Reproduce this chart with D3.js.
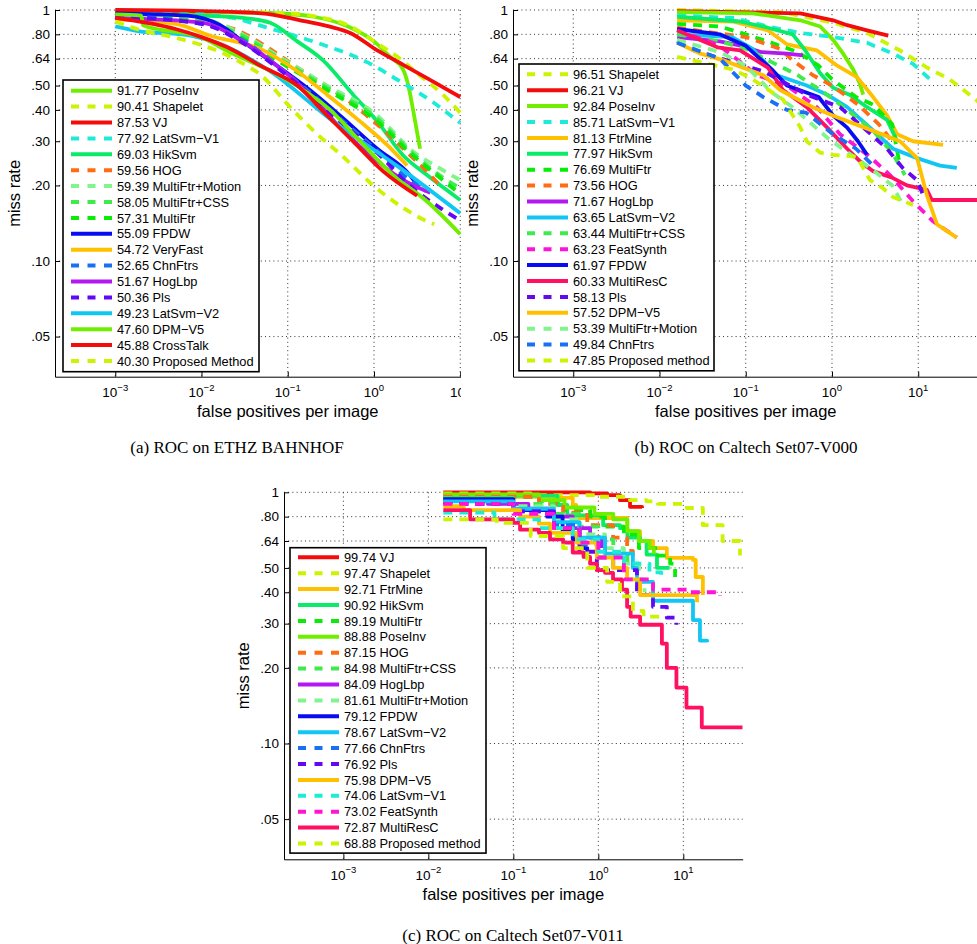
<!DOCTYPE html>
<html>
<head>
<meta charset="utf-8">
<script src="https://cdn.jsdelivr.net/npm/d3@7"></script>
<style>
  body { margin: 0; background: #fff; }
  svg { display: block; }
</style>
</head>
<body>
<svg id="fig" width="977" height="944"></svg>
<script>
// ---------- shared axis ticks ----------
const xTickValues = [1e-3, 1e-2, 1e-1, 1, 10];
const xTickExps = ["\u22123", "\u22122", "\u22121", "0", "1"];
const yTickValues = [1, 0.8, 0.64, 0.5, 0.4, 0.3, 0.2, 0.1, 0.05];
const yTickLabels = ["1", ".80", ".64", ".50", ".40", ".30", ".20", ".10", ".05"];

// ---------- (a) ETHZ BAHNHOF : [fppi, miss rate] ----------
const namesA = ["PoseInv", "Shapelet", "VJ", "LatSvm\u2212V1", "HikSvm", "HOG", "MultiFtr+Motion",
  "MultiFtr+CSS", "MultiFtr", "FPDW", "VeryFast", "ChnFtrs", "HogLbp", "Pls", "LatSvm\u2212V2",
  "DPM\u2212V5", "CrossTalk", "Proposed Method"];
const scoresA = [91.77, 90.41, 87.53, 77.92, 69.03, 59.56, 59.39, 58.05, 57.31, 55.09, 54.72,
  52.65, 51.67, 50.36, 49.23, 47.60, 45.88, 40.30];
const curvesA = [
  [[0.001,0.98],[0.01,0.98],[0.05,0.975],[0.1,0.965],[0.2,0.94],[0.5,0.86],[1,0.75],[1.54,0.65],[2.17,0.58],[2.5,0.5],[2.84,0.4],[3.42,0.28]],
  [[0.001,0.99],[0.01,0.985],[0.1,0.97],[0.2,0.945],[0.5,0.87],[1,0.75],[2,0.64],[3.16,0.56],[6.3,0.46],[10,0.39]],
  [[0.001,1.0],[0.01,0.99],[0.05,0.97],[0.14,0.91],[0.3,0.86],[0.53,0.81],[1.09,0.69],[2,0.615],[4.8,0.52],[10,0.45]],
  [[0.001,0.96],[0.01,0.96],[0.023,0.93],[0.058,0.85],[0.22,0.74],[0.83,0.62],[2,0.52],[4.8,0.43],[10,0.355]],
  [[0.001,0.96],[0.01,0.95],[0.03,0.93],[0.0625,0.89],[0.129,0.75],[0.257,0.63],[0.573,0.46],[1.09,0.36],[2.17,0.264],[4.12,0.22],[10,0.175]],
  [[0.001,0.95],[0.01,0.9],[0.026,0.83],[0.058,0.71],[0.129,0.59],[0.44,0.45],[1.09,0.35],[2.6,0.265],[4.5,0.22],[5.8,0.2]],
  [[0.001,0.96],[0.01,0.92],[0.03,0.8],[0.075,0.66],[0.286,0.5],[1.09,0.38],[2.6,0.28],[6.3,0.23],[10,0.21]],
  [[0.001,0.95],[0.01,0.9],[0.03,0.79],[0.075,0.65],[0.286,0.49],[1.09,0.37],[2.6,0.275],[6.3,0.215],[10,0.195]],
  [[0.001,0.95],[0.01,0.89],[0.03,0.77],[0.075,0.63],[0.286,0.48],[1.09,0.36],[2.6,0.27],[6.3,0.21],[10,0.185]],
  [[0.001,0.97],[0.0068,0.95],[0.0165,0.87],[0.03,0.75],[0.075,0.6],[0.18,0.48],[0.44,0.37],[1.09,0.28],[2.6,0.22],[3.2,0.2]],
  [[0.001,0.92],[0.005,0.88],[0.0126,0.79],[0.048,0.7],[0.129,0.57],[0.286,0.46],[0.69,0.36],[1.42,0.29],[2.42,0.24]],
  [[0.001,0.95],[0.01,0.88],[0.03,0.76],[0.075,0.6],[0.18,0.47],[0.44,0.36],[1.09,0.275],[2.6,0.21],[4,0.19]],
  [[0.001,0.93],[0.01,0.89],[0.03,0.75],[0.075,0.6],[0.182,0.46],[0.44,0.33],[1.09,0.25],[2.2,0.21],[4.5,0.187]],
  [[0.001,0.94],[0.01,0.88],[0.03,0.74],[0.075,0.59],[0.18,0.46],[0.44,0.35],[1.09,0.27],[2.6,0.2],[6.3,0.16],[10,0.145]],
  [[0.001,0.86],[0.002,0.82],[0.006,0.8],[0.015,0.74],[0.058,0.58],[0.336,0.36],[2,0.235],[10,0.155]],
  [[0.001,0.96],[0.002,0.95],[0.0021,0.87],[0.0097,0.78],[0.023,0.67],[0.058,0.58],[0.139,0.49],[0.31,0.4],[0.69,0.3],[1.66,0.22],[4.1,0.173],[10,0.128]],
  [[0.001,0.93],[0.005,0.84],[0.01,0.78],[0.02,0.71],[0.048,0.6],[0.129,0.5],[0.286,0.38],[0.57,0.3],[1.27,0.228],[3.16,0.182]],
  [[0.001,0.9],[0.002,0.83],[0.0047,0.78],[0.026,0.63],[0.052,0.54],[0.1,0.42],[0.22,0.32],[0.44,0.26],[0.98,0.2],[2.17,0.163],[4.1,0.144],[5,0.14]]
];

// ---------- (b) Caltech Set07-V000 ----------
const namesB = ["Shapelet", "VJ", "PoseInv", "LatSvm\u2212V1", "FtrMine", "HikSvm", "MultiFtr", "HOG",
  "HogLbp", "LatSvm\u2212V2", "MultiFtr+CSS", "FeatSynth", "FPDW", "MultiResC", "Pls", "DPM\u2212V5",
  "MultiFtr+Motion", "ChnFtrs", "Proposed method"];
const scoresB = [96.51, 96.21, 92.84, 85.71, 81.13, 77.97, 76.69, 73.56, 71.67, 63.65, 63.44,
  63.23, 61.97, 60.33, 58.13, 57.52, 53.39, 49.84, 47.85];
const curvesB = [
  [[0.016,1.0],[0.27,0.98],[1.03,0.89],[2.55,0.81],[6.15,0.69],[12.6,0.59],[23,0.53],[43,0.45],[50,0.43]],
  [[0.016,0.99],[0.43,0.97],[1.03,0.91],[1.5,0.87],[2.55,0.83],[4.5,0.79]],
  [[0.016,0.98],[0.12,0.97],[0.43,0.91],[0.73,0.86],[1.03,0.76],[1.35,0.67],[1.76,0.58],[2.1,0.51],[2.3,0.46]],
  [[0.016,0.95],[0.071,0.93],[0.18,0.86],[0.43,0.81],[1.03,0.78],[2.55,0.74],[5.1,0.67],[8.7,0.61],[13.7,0.53]],
  [[0.016,0.91],[0.07,0.9],[0.18,0.83],[0.3,0.73],[0.67,0.69],[1.15,0.6],[1.95,0.54],[3,0.45],[4.35,0.38],[5.7,0.32],[8.7,0.3],[19.4,0.29]],
  [[0.016,0.94],[0.086,0.9],[0.18,0.85],[0.35,0.8],[0.49,0.69],[0.73,0.56],[1.03,0.49],[1.6,0.46],[2.55,0.41],[4.35,0.365],[5.7,0.3]],
  [[0.016,0.88],[0.05,0.86],[0.1,0.8],[0.2,0.74],[0.4,0.68],[0.7,0.6],[1.0,0.53],[1.9,0.45],[3,0.42],[5,0.35],[6,0.25]],
  [[0.016,0.85],[0.1,0.78],[0.25,0.7],[0.35,0.63],[0.6,0.55],[1.0,0.5],[2,0.42],[3.5,0.35],[5,0.3]],
  [[0.016,0.78],[0.05,0.75],[0.09,0.72],[0.15,0.68],[0.3,0.67],[0.46,0.66]],
  [[0.016,0.8],[0.07,0.78],[0.12,0.7],[0.23,0.55],[0.51,0.5],[0.88,0.46],[1.5,0.41],[2.76,0.34],[5.1,0.28],[9.7,0.257],[17.9,0.24],[28,0.235]],
  [[0.016,0.8],[0.05,0.75],[0.1,0.7],[0.2,0.62],[0.4,0.55],[0.8,0.47],[1.5,0.4],[3,0.33],[5,0.27],[7,0.22]],
  [[0.016,0.83],[0.047,0.73],[0.136,0.55],[0.3,0.5],[0.67,0.41],[1.24,0.32],[2.76,0.26],[4.7,0.22],[8.7,0.173],[14.8,0.144],[28,0.124]],
  [[0.016,0.84],[0.05,0.8],[0.1,0.72],[0.2,0.58],[0.3,0.5],[0.7,0.45],[1.03,0.38],[1.5,0.34],[2.0,0.3],[2.55,0.265]],
  [[0.016,0.83],[0.047,0.71],[0.086,0.69],[0.18,0.59],[0.27,0.48],[0.51,0.41],[0.88,0.34],[1.5,0.28],[2.1,0.25],[3,0.228],[5.1,0.214],[7.4,0.2],[12.6,0.192],[14.4,0.175],[50,0.175]],
  [[0.016,0.75],[0.025,0.69],[0.16,0.57],[0.51,0.46],[1.24,0.41],[2.55,0.33],[4.35,0.28],[6.6,0.235],[9.7,0.21],[11.4,0.183]],
  [[0.016,0.74],[0.03,0.67],[0.055,0.63],[0.16,0.55],[0.25,0.48],[0.6,0.41],[1.24,0.37],[3,0.33],[6.15,0.3],[9.7,0.257],[12.6,0.183],[16.5,0.14],[28,0.124]],
  [[0.016,0.76],[0.05,0.68],[0.1,0.6],[0.2,0.47],[0.35,0.41],[0.88,0.31],[1.8,0.26],[3,0.23],[5,0.2],[6.5,0.17]],
  [[0.016,0.74],[0.05,0.64],[0.1,0.5],[0.16,0.45],[0.3,0.4],[0.5,0.39],[1.03,0.32],[1.9,0.28],[3,0.24]],
  [[0.016,0.65],[0.07,0.58],[0.11,0.54],[0.27,0.44],[0.43,0.34],[0.51,0.3],[0.73,0.27],[1.03,0.265],[1.95,0.26],[2.76,0.21],[3.9,0.195],[5.1,0.18],[8.7,0.167]]
];

// ---------- (c) Caltech Set07-V011 ----------
const namesC = ["VJ", "Shapelet", "FtrMine", "HikSvm", "MultiFtr", "PoseInv", "HOG", "MultiFtr+CSS",
  "HogLbp", "MultiFtr+Motion", "FPDW", "LatSvm\u2212V2", "ChnFtrs", "Pls", "DPM\u2212V5", "LatSvm\u2212V1",
  "FeatSynth", "MultiResC", "Proposed method"];
const scoresC = [99.74, 97.47, 92.71, 90.92, 89.19, 88.88, 87.15, 84.98, 84.09, 81.61, 79.12,
  78.67, 77.66, 76.92, 75.98, 74.06, 73.02, 72.87, 68.88];
const curvesC = [
  [[0.015,1.0],[0.8,0.99],[1.27,0.975],[1.8,0.93],[2.36,0.875],[3.27,0.866]],
  [[0.015,0.99],[0.16,0.975],[0.98,0.96],[2.36,0.93],[3.7,0.92],[5,0.9],[11,0.866],[17,0.74],[29,0.64],[46.5,0.56]],
  [[0.015,0.96],[0.27,0.95],[0.5,0.89],[0.55,0.79],[1.66,0.79],[2.18,0.7],[3.1,0.64],[4.4,0.6],[6.4,0.548],[13,0.538],[14,0.46],[17,0.39]],
  [[0.015,0.97],[0.33,0.89],[0.43,0.81],[0.87,0.81],[1.14,0.74],[1.8,0.72],[2.2,0.66],[3.1,0.64],[3.7,0.565],[4.9,0.5],[6.9,0.5]],
  [[0.015,0.96],[0.2,0.92],[0.4,0.85],[0.8,0.8],[1.2,0.73],[2,0.68],[3,0.6],[5,0.56],[7,0.52],[8,0.46]],
  [[0.015,0.98],[0.2,0.93],[0.4,0.87],[0.9,0.82],[1.5,0.78],[2.2,0.7],[3,0.64],[4,0.6],[4.5,0.57]],
  [[0.015,0.96],[0.2,0.9],[0.385,0.83],[0.74,0.74],[1.49,0.66],[2.18,0.585],[2.55,0.515]],
  [[0.015,0.95],[0.1,0.9],[0.3,0.82],[0.6,0.73],[1,0.65],[1.5,0.57],[2.2,0.52],[3,0.48]],
  [[0.015,0.93],[0.05,0.9],[0.15,0.86],[0.3,0.8],[0.5,0.72],[0.8,0.66],[1.1,0.6]],
  [[0.015,0.92],[0.1,0.88],[0.3,0.78],[0.6,0.68],[1.2,0.6],[2,0.52],[3,0.45],[3.5,0.4]],
  [[0.015,0.94],[0.1,0.85],[0.25,0.8],[0.38,0.7],[0.5,0.65],[0.67,0.6],[0.74,0.55]],
  [[0.015,0.92],[0.1,0.86],[0.3,0.76],[0.6,0.66],[1.2,0.57],[2.55,0.5],[2.85,0.44],[4.4,0.37],[11,0.37],[13,0.31],[15.7,0.257],[19,0.253]],
  [[0.015,0.9],[0.1,0.84],[0.3,0.74],[0.6,0.62],[1,0.55],[1.5,0.48]],
  [[0.015,0.9],[0.1,0.84],[0.3,0.72],[0.6,0.58],[0.96,0.49],[2.85,0.39],[4.4,0.35],[6.4,0.317],[8.3,0.297]],
  [[0.015,0.88],[0.026,0.85],[0.12,0.8],[0.2,0.75],[0.27,0.69],[0.56,0.63],[0.96,0.55],[1.49,0.5],[2.18,0.45],[3.1,0.39],[12,0.39],[14.5,0.365]],
  [[0.015,0.83],[0.06,0.78],[0.2,0.72],[0.5,0.65],[1,0.58],[2,0.52],[4,0.48],[5.5,0.47]],
  [[0.015,0.9],[0.1,0.82],[0.3,0.72],[0.6,0.63],[1,0.55],[2,0.45],[4.4,0.41],[11,0.4],[27,0.387]],
  [[0.015,0.85],[0.031,0.78],[0.1,0.755],[0.12,0.71],[0.2,0.69],[0.27,0.65],[0.385,0.63],[0.5,0.576],[0.67,0.553],[0.8,0.52],[0.96,0.49],[1.2,0.478],[1.49,0.45],[1.9,0.41],[2.18,0.35],[2.4,0.32],[3.1,0.297],[5.3,0.297],[5.6,0.25],[6.4,0.2],[8.3,0.167],[10.9,0.139],[16.5,0.116],[50,0.116]],
  [[0.015,0.78],[0.064,0.755],[0.16,0.67],[0.385,0.6],[0.74,0.5],[1.27,0.44],[1.8,0.385],[2.55,0.337],[3.4,0.32],[5.3,0.31]]
];

// ---------- line styles ----------
const C = {
  lime: "#70ee00", yel: "#ccf400", red: "#f40c0c", turq: "#1cecd6", spring: "#0aeb6a",
  orange: "#ff6c14", lgreen: "#82f48c", green2: "#3eea4c", green: "#08ec08", blue: "#0a0cf0",
  amber: "#ffc000", blue2: "#1a70f4", purple: "#b418f0", violet: "#6408f4", sky: "#12c6f4",
  magenta: "#ff14d4", pink: "#ff1060"
};
const colorsA = [C.lime, C.yel, C.red, C.turq, C.spring, C.orange, C.lgreen, C.green2, C.green, C.blue,
  C.amber, C.blue2, C.purple, C.violet, C.sky, C.lime, C.red, C.yel];
const dashedA = [0,1,0,1,0,1,1,1,1,0,0,1,0,1,0,0,0,1];
const colorsB = [C.yel, C.red, C.lime, C.turq, C.amber, C.spring, C.green, C.orange, C.purple, C.sky,
  C.green2, C.magenta, C.blue, C.pink, C.violet, C.amber, C.lgreen, C.blue2, C.yel];
const dashedB = [1,0,0,1,0,0,1,1,0,0,1,1,0,0,1,0,1,1,1];
const colorsC = [C.red, C.yel, C.amber, C.spring, C.green, C.lime, C.orange, C.green2, C.purple, C.lgreen,
  C.blue, C.sky, C.blue2, C.violet, C.amber, C.turq, C.magenta, C.pink, C.yel];
const dashedC = [0,1,0,0,1,0,1,1,0,1,0,0,1,1,0,1,1,0,1];

const SANS = "'Liberation Sans', Arial, Helvetica, sans-serif";
const SERIF = "'Liberation Serif', 'Times New Roman', serif";
const svg = d3.select("#fig");
const defs = svg.append("defs");
const yMin = 0.0346;

function drawPanel(p, names, scores, curves, colors, dashed, curveFactory) {
  const x = d3.scaleLog().domain([2e-4, 50]).range([p.left, p.right]);
  const y = d3.scaleLog().domain([1, yMin]).range([p.top, p.bottom]);
  const visRight = Math.min(p.right, p.cropRight);

  defs.append("clipPath").attr("id", p.id + "-plot").append("rect")
    .attr("x", p.left).attr("y", p.top - 4)
    .attr("width", visRight - p.left).attr("height", p.bottom - p.top + 4);
  defs.append("clipPath").attr("id", p.id + "-crop").append("rect")
    .attr("x", 0).attr("y", 0).attr("width", p.cropRight).attr("height", 944);

  const g = svg.append("g").attr("clip-path", `url(#${p.id}-crop)`);

  // dotted grid
  const grid = g.append("g").attr("stroke", "#333").attr("stroke-width", 1)
    .attr("stroke-dasharray", "1,3.2");
  grid.selectAll("line.gx").data(xTickValues).join("line").attr("class", "gx")
    .attr("x1", d => x(d)).attr("x2", d => x(d)).attr("y1", p.top).attr("y2", p.bottom);
  grid.selectAll("line.gy").data(yTickValues).join("line").attr("class", "gy")
    .attr("x1", p.left).attr("x2", p.right).attr("y1", d => y(d)).attr("y2", d => y(d));

  // curves
  const line = d3.line().x(d => x(d[0])).y(d => y(d[1])).curve(curveFactory);
  const plot = g.append("g").attr("clip-path", `url(#${p.id}-plot)`);
  plot.selectAll("path.roc").data(curves).join("path").attr("class", "roc")
    .attr("d", line)
    .attr("fill", "none")
    .attr("stroke", (d, i) => colors[i])
    .attr("stroke-width", 3.8)
    .attr("stroke-linejoin", "round")
    .attr("stroke-dasharray", (d, i) => dashed[i] ? "9,7" : null);

  // axes (ticks point inward)
  const yAxis = d3.axisLeft(y).tickValues(yTickValues)
    .tickFormat((d, i) => yTickLabels[i]).tickSizeInner(-5).tickSizeOuter(0).tickPadding(5);
  const ya = g.append("g").attr("transform", `translate(${p.left},0)`).call(yAxis);
  ya.selectAll("text").attr("font-family", SANS).attr("font-size", 13.5).attr("fill", "#000");
  ya.selectAll("line, path").attr("stroke", "#000");

  const xAxis = d3.axisBottom(x).tickValues(xTickValues).tickFormat("")
    .tickSizeInner(-5).tickSizeOuter(0);
  const xa = g.append("g").attr("transform", `translate(0,${p.bottom})`).call(xAxis);
  xa.selectAll("line, path").attr("stroke", "#000");
  const xl = g.append("g").attr("font-family", SANS).attr("fill", "#000");
  const t = xl.selectAll("text").data(xTickValues).join("text")
    .attr("x", d => x(d)).attr("y", p.bottom + 20.5)
    .attr("text-anchor", "middle").attr("font-size", 13.5);
  t.append("tspan").text("10");
  t.append("tspan").attr("dy", -6.5).attr("font-size", 9.5).text((d, i) => xTickExps[i]);

  // axis titles
  g.append("text").attr("x", (p.left + p.right) / 2).attr("y", p.bottom + 40.5)
    .attr("text-anchor", "middle").attr("font-family", SANS).attr("font-size", 16.5)
    .text("false positives per image");
  g.append("text")
    .attr("transform", `translate(${p.left - 35},${(p.top + p.bottom) / 2}) rotate(-90)`)
    .attr("text-anchor", "middle").attr("font-family", SANS).attr("font-size", 16.5)
    .text("miss rate");

  // legend
  const L = p.legend;
  const rowH = 15.9;
  const lg = g.append("g");
  lg.append("rect").attr("x", L.x).attr("y", L.y).attr("width", L.w)
    .attr("height", rowH * (names.length - 1) + 2 * (L.rowY0 - L.y))
    .attr("fill", "#fff").attr("stroke", "#000").attr("stroke-width", 1.6);
  const rows = lg.selectAll("g.row").data(names).join("g").attr("class", "row")
    .attr("transform", (d, i) => `translate(0,${L.rowY0 + i * rowH})`);
  rows.append("line").attr("x1", L.x + 8).attr("x2", L.x + 49).attr("y1", 0).attr("y2", 0)
    .attr("stroke", (d, i) => colors[i]).attr("stroke-width", 4)
    .attr("stroke-dasharray", (d, i) => dashed[i] ? "8,8.5" : null);
  rows.append("text").attr("x", L.x + 54).attr("y", 4.6)
    .attr("font-family", SANS).attr("font-size", 12.8).attr("fill", "#000")
    .text((d, i) => scores[i].toFixed(2) + " " + d);

  // caption
  svg.append("text").attr("x", p.captionX).attr("y", p.captionY)
    .attr("text-anchor", "middle").attr("font-family", SERIF).attr("font-size", 17)
    .text(p.caption);
}

drawPanel({ id: "pa", left: 55, right: 520.5, top: 10, bottom: 376.7, cropRight: 461,
    legend: { x: 63, y: 80, w: 196, rowY0: 90.7 },
    caption: "(a) ROC on ETHZ BAHNHOF", captionX: 237, captionY: 453 },
  namesA, scoresA, curvesA, colorsA, dashedA, d3.curveMonotoneX);

drawPanel({ id: "pb", left: 513, right: 978.5, top: 10, bottom: 376.7, cropRight: 977,
    legend: { x: 519, y: 64, w: 195, rowY0: 74.3 },
    caption: "(b) ROC on Caltech Set07-V000", captionX: 746, captionY: 453 },
  namesB, scoresB, curvesB, colorsB, dashedB, d3.curveLinear);

drawPanel({ id: "pc", left: 284, right: 742.7, top: 492.3, bottom: 859.3, cropRight: 977,
    legend: { x: 290, y: 547.7, w: 196, rowY0: 557.3 },
    caption: "(c) ROC on Caltech Set07-V011", captionX: 513, captionY: 941 },
  namesC, scoresC, curvesC, colorsC, dashedC, d3.curveStepAfter);
</script>
</body>
</html>
